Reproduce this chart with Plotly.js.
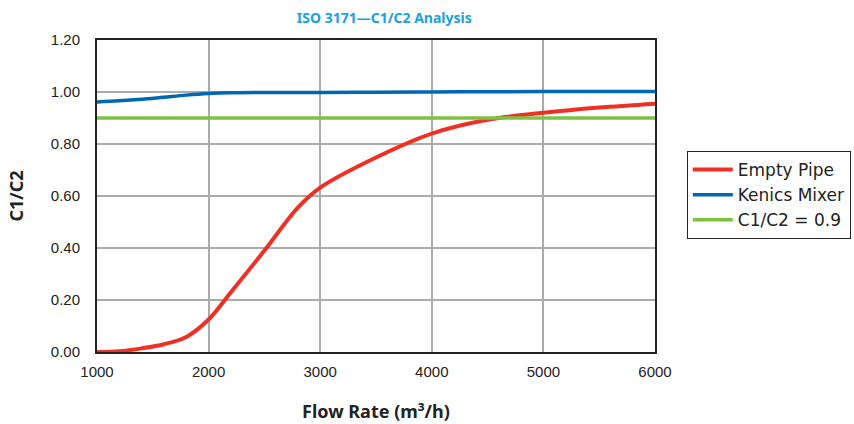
<!DOCTYPE html>
<html>
<head>
<meta charset="utf-8">
<script src="https://cdn.plot.ly/plotly-3.0.1.min.js"></script>
<style>html,body{margin:0;padding:0;background:#fff;}#chart{width:854px;height:424px;}</style>
</head>
<body>
<div id="chart"></div>
<script>
const flowRate = [1000, 1200, 1400, 1600, 1800, 2000, 2200, 2500, 2800, 3000, 3500, 4000, 4500, 5000, 5500, 6000];
const emptyPipe = [0.000, 0.003, 0.014, 0.030, 0.058, 0.125, 0.230, 0.390, 0.555, 0.632, 0.748, 0.840, 0.893, 0.920, 0.940, 0.955];
const kenicsMixer = [0.962, 0.966, 0.972, 0.980, 0.988, 0.994, 0.997, 0.998, 0.998, 0.998, 0.999, 1.000, 1.001, 1.002, 1.002, 1.002];
const targetX = [1000, 6000];
const targetY = [0.9, 0.9];
const seriesNames = ["Empty Pipe", "Kenics Mixer", "C1/C2 = 0.9"];
const yTicks = [0, 0.2, 0.4, 0.6, 0.8, 1.0, 1.2];
const xTicks = [1000, 2000, 3000, 4000, 5000, 6000];

const data = [
  {x: flowRate, y: emptyPipe, name: seriesNames[0], mode: 'lines', line: {color: '#EE3124', width: 4, shape: 'spline', smoothing: 1}},
  {x: flowRate, y: kenicsMixer, name: seriesNames[1], mode: 'lines', line: {color: '#0067B1', width: 3.5, shape: 'spline'}},
  {x: targetX, y: targetY, name: seriesNames[2], mode: 'lines', line: {color: '#7DC243', width: 3.5}}
];

const layout = {
  width: 854, height: 424,
  margin: {l: 97, r: 199, t: 40, b: 72, autoexpand: false},
  paper_bgcolor: '#fff', plot_bgcolor: '#fff',
  title: {text: '<b>ISO 3171—C1/C2 Analysis</b>', font: {family: 'Noto Sans', size: 14, color: '#1BA0DE'}, x: 0.45, xanchor: 'center', y: 0.957, yanchor: 'middle'},
  xaxis: {
    range: [1000, 6000], tickvals: xTicks, ticktext: xTicks.map(String),
    showgrid: true, gridcolor: '#ababab', gridwidth: 2,
    showline: true, linecolor: '#222', linewidth: 2, mirror: true,
    ticks: '', zeroline: false, ticklabelstandoff: 5,
    tickfont: {family: 'Liberation Sans', size: 15, color: '#222'},
    title: {text: '<b>Flow Rate (m³/h)</b>', font: {family: 'Noto Sans', size: 18, color: '#222'}, standoff: 26}
  },
  yaxis: {
    range: [0, 1.2], tickvals: yTicks, ticktext: yTicks.map(v => v.toFixed(2)),
    showgrid: true, gridcolor: '#ababab', gridwidth: 2,
    showline: true, linecolor: '#222', linewidth: 2, mirror: true,
    ticks: '', zeroline: false, ticklabelstandoff: 12,
    tickfont: {family: 'Liberation Sans', size: 15, color: '#222'},
    title: {text: '<b>C1/C2</b>', font: {family: 'Noto Sans', size: 18, color: '#222'}, standoff: 22}
  },
  legend: {
    x: 1.057, xanchor: 'left', y: 0.644, yanchor: 'top',
    bordercolor: '#222', borderwidth: 1, bgcolor: '#fff',
    font: {family: 'DejaVu Sans', size: 17, color: '#222'},
    tracegroupgap: 0, itemwidth: 40
  },
  showlegend: true
};

Plotly.newPlot('chart', data, layout, {displayModeBar: false, staticPlot: true});
</script>
</body>
</html>
